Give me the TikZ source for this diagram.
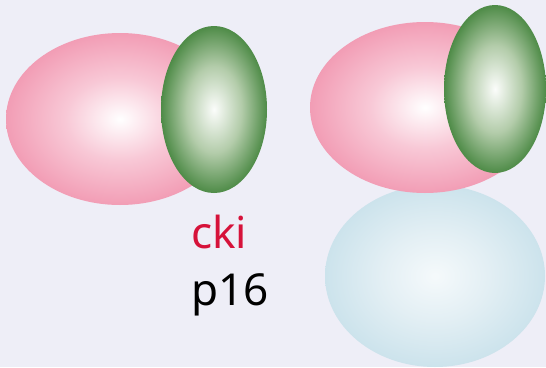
\documentclass[tikz,border=0pt]{standalone}
\usepackage{fontspec}
\setmainfont{Noto Sans}
\definecolor{bgcol}{HTML}{EEEEF7}
\definecolor{pinkedge}{HTML}{F29DB5}
\definecolor{pinkmid}{HTML}{F8C8D6}
\definecolor{greenedge}{HTML}{4E8B47}
\definecolor{greenmid}{HTML}{B3CCAA}
\definecolor{blueedge}{HTML}{CCE3EC}
\definecolor{bluemid}{HTML}{E3EFF4}
\definecolor{ckired}{HTML}{D6123A}
\pgfdeclareradialshading{pinkball}{\pgfpoint{0bp}{0bp}}{%
  color(0bp)=(white); color(12bp)=(pinkmid); color(25bp)=(pinkedge); color(50bp)=(pinkedge)}
\pgfdeclareradialshading{greenball}{\pgfpoint{0bp}{0bp}}{%
  color(0bp)=(white!95!greenmid); color(13bp)=(greenmid); color(25bp)=(greenedge); color(50bp)=(greenedge)}
\pgfdeclareradialshading{blueball}{\pgfpoint{0bp}{0bp}}{%
  color(0bp)=(white!80!blueedge); color(12bp)=(bluemid); color(25bp)=(blueedge); color(50bp)=(blueedge)}
\tikzset{
  cyclin/.style={shading=pinkball},
  cdk/.style={shading=greenball},
  inhibitor/.style={shading=blueball},
  label/.style={font=\fontsize{44}{54}\selectfont, anchor=base west, inner sep=0pt}
}
\begin{document}
\begin{tikzpicture}[x=1pt, y=-1pt]
  \fill[bgcol] (0,0) rectangle (546,367);
  \useasboundingbox (0,0) rectangle (546,367);
  % inhibitor bound below the right complex
  \shade[inhibitor] (435,276) ellipse [x radius=110, y radius=91];
  % cyclin subunits
  \shade[cyclin] (120,119) ellipse [x radius=114, y radius=86];
  \shade[cyclin] (425,107.5) ellipse [x radius=115, y radius=85.5];
  % kinase subunits
  \shade[cdk] (214,109.5) ellipse [x radius=53, y radius=83.5];
  \shade[cdk] (495,89) ellipse [x radius=51, y radius=84];
  % labels
  \node[label, text=ckired] (cki) at (191,248) {cki};
  \node[label, text=black] (p16) at (191,305) {p16};
\end{tikzpicture}
\end{document}
